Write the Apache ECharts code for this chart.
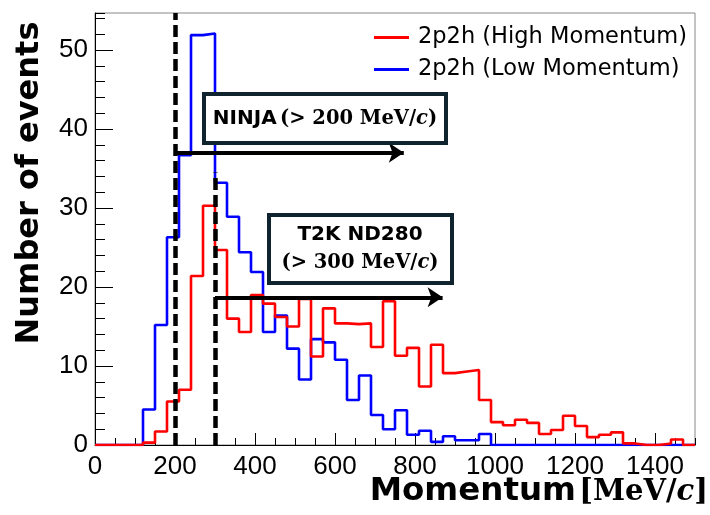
<!DOCTYPE html>
<html>
<head>
<meta charset="utf-8">
<script src="https://cdn.jsdelivr.net/npm/echarts@6/dist/echarts.min.js"></script>
<style>
  html, body { margin: 0; padding: 0; background: #fff; }
  #chart { width: 710px; height: 515px; }
</style>
</head>
<body>
<div id="chart"></div>
<script>
// histogram binning (MeV/c)
const BIN_WIDTH = 30
const X_MAX = 1500
const Y_MAX = 54.7

// events per 30 MeV/c bin, starting at 0
const lowMomentum = [
  0, 0, 0, 0, 4.5, 15.2, 26.3, 36.7, 51.9, 52.1,
  33.2, 28.9, 24.4, 21.9, 14.3, 16.4, 12.2, 8.3, 13.4, 13.0,
  10.8, 5.7, 8.8, 3.8, 2.0, 4.4, 1.3, 1.8, 0.4, 1.1,
  0.6, 0.6, 1.4, 0, 0, 0, 0, 0, 0, 0,
  0, 0, 0, 0, 0, 0, 0, 0, 0, 0,
]
const highMomentum = [
  0, 0, 0, 0, 0.3, 1.7, 5.5, 7.0, 21.4, 30.3,
  24.7, 16.0, 14.3, 19.0, 17.9, 16.2, 15.0, 18.5, 11.2, 17.3,
  15.4, 15.3, 15.4, 12.4, 18.2, 11.3, 12.3, 7.4, 12.7, 9.1,
  9.3, 9.5, 5.7, 2.9, 2.5, 3.2, 2.8, 1.4, 1.9, 3.7,
  2.4, 1.0, 1.3, 1.6, 0.2, 0, 0, 0.2, 0.7, 0,
]

// detector thresholds and their arrows
const ninjaCut = 200
const t2kCut = 300
const ninjaArrow = { y: 37.0, end: 772 }
const t2kArrow = { y: 18.7, end: 869, lineTop: 34.5 }

const seriesNames = ['2p2h (High Momentum)', '2p2h (Low Momentum)']

// bin low edges + the last upper edge, drawn as a step line
function toSteps(values) {
  const pts = values.map((v, i) => [i * BIN_WIDTH, v])
  pts.push([values.length * BIN_WIDTH, values[values.length - 1]])
  return pts
}

const tickFont = { fontFamily: 'Liberation Sans', fontSize: 26, color: '#000', formatter: (v) => String(v) }
const sans = 'DejaVu Sans'
const serif = 'DejaVu Serif'

const chart = echarts.init(document.getElementById('chart'), null, { renderer: 'canvas' })

const valueAxisBase = {
  type: 'value',
  min: 0,
  splitLine: { show: false },
}

const serifRich = (size) => ({
  b: { fontFamily: serif, fontWeight: 'bold', fontSize: size, fill: '#000' },
  c: { fontFamily: serif, fontWeight: 'bold', fontStyle: 'italic', fontSize: size, fill: '#000' },
})

chart.setOption({
  animation: false,
  grid: { left: 95, top: 13, right: 15, bottom: 70, show: true, borderColor: '#888', borderWidth: 1 },
  legend: {
    orient: 'vertical',
    left: 369,
    top: 21,
    itemWidth: 35,
    itemHeight: 3,
    itemGap: 9,
    icon: 'rect',
    data: seriesNames,
    textStyle: { fontFamily: sans, fontSize: 22.5, color: '#000', lineHeight: 23, padding: [0, 0, 0, 4] },
  },
  xAxis: [
    {
      ...valueAxisBase,
      max: X_MAX,
      interval: 200,
      axisLine: { show: true, onZero: false, lineStyle: { color: '#000', width: 1 } },
      axisTick: { show: true, inside: true, length: 12, lineStyle: { color: '#000', width: 1 } },
      axisLabel: { ...tickFont, margin: 9, showMaxLabel: false },
    },
    {
      ...valueAxisBase,
      max: X_MAX,
      interval: 50,
      position: 'bottom',
      axisLine: { show: false },
      axisTick: { show: true, inside: true, length: 7, lineStyle: { color: '#000', width: 1 } },
      axisLabel: { show: false },
    },
  ],
  yAxis: [
    {
      ...valueAxisBase,
      max: Y_MAX,
      interval: 10,
      axisLine: { show: true, onZero: false, lineStyle: { color: '#000', width: 1 } },
      axisTick: { show: true, inside: true, length: 18, lineStyle: { color: '#000', width: 1 } },
      axisLabel: { ...tickFont, margin: 7, showMaxLabel: false },
    },
    {
      ...valueAxisBase,
      max: Y_MAX,
      interval: 2,
      position: 'left',
      axisLine: { show: false },
      axisTick: { show: true, inside: true, length: 10, lineStyle: { color: '#000', width: 1 } },
      axisLabel: { show: false },
    },
  ],
  series: [
    {
      name: seriesNames[1],
      type: 'line',
      step: 'end',
      data: toSteps(lowMomentum),
      symbol: 'none',
      itemStyle: { color: '#0000ff' },
      lineStyle: { color: '#0000ff', width: 2.6 },
      z: 2,
    },
    {
      name: seriesNames[0],
      type: 'line',
      step: 'end',
      data: toSteps(highMomentum),
      symbol: 'none',
      itemStyle: { color: '#ff0000' },
      lineStyle: { color: '#ff0000', width: 2.6 },
      z: 3,
      markLine: {
        silent: true,
        animation: false,
        label: { show: false },
        z: 6,
        data: [
          [
            { coord: [ninjaCut, 0], symbol: 'none', lineStyle: { color: '#000', width: 4.5, type: [12, 5] } },
            { coord: [ninjaCut, Y_MAX], symbol: 'none' },
          ],
          [
            { coord: [t2kCut, 0], symbol: 'none', lineStyle: { color: '#000', width: 4.5, type: [12, 5] } },
            { coord: [t2kCut, t2kArrow.lineTop], symbol: 'none' },
          ],
          [
            { coord: [ninjaCut, ninjaArrow.y], symbol: 'none', lineStyle: { color: '#000', width: 4, type: 'solid' } },
            { coord: [ninjaArrow.end, ninjaArrow.y], symbol: 'arrow', symbolSize: 15 },
          ],
          [
            { coord: [t2kCut, t2kArrow.y], symbol: 'none', lineStyle: { color: '#000', width: 4, type: 'solid' } },
            { coord: [t2kArrow.end, t2kArrow.y], symbol: 'arrow', symbolSize: 15 },
          ],
        ],
      },
    },
  ],
  graphic: [
    {
      type: 'rect', z: 20,
      shape: { x: 204, y: 94, width: 242, height: 49 },
      style: { fill: '#fff', stroke: '#10242f', lineWidth: 4 },
    },
    {
      type: 'text', z: 21, x: 325, y: 119,
      style: {
        text: '{a|NINJA} {b|(> 200 MeV/}{c|c}{b|)}',
        align: 'center', verticalAlign: 'middle',
        rich: {
          a: { fontFamily: sans, fontWeight: 'bold', fontSize: 20, fill: '#000' },
          ...serifRich(19.5),
        },
      },
    },
    {
      type: 'rect', z: 20,
      shape: { x: 269, y: 215, width: 183, height: 68 },
      style: { fill: '#fff', stroke: '#10242f', lineWidth: 4 },
    },
    {
      type: 'text', z: 21, x: 360, y: 235,
      style: {
        text: 'T2K ND280',
        align: 'center', verticalAlign: 'middle',
        font: 'bold 20px "DejaVu Sans"', fill: '#000',
      },
    },
    {
      type: 'text', z: 21, x: 360, y: 263,
      style: {
        text: '{b|(> 300 MeV/}{c|c}{b|)}',
        align: 'center', verticalAlign: 'middle',
        rich: serifRich(19.5),
      },
    },
    {
      type: 'text', z: 21, x: 30, y: 183, rotation: Math.PI / 2,
      style: {
        text: 'Number of events',
        align: 'center', verticalAlign: 'middle',
        font: 'bold 32px "DejaVu Sans"', fill: '#000',
      },
    },
    {
      type: 'text', z: 21, x: 708, y: 492,
      style: {
        text: '{a|Momentum} {b|[MeV/}{c|c}{b|]}',
        align: 'right', verticalAlign: 'middle',
        rich: {
          a: { fontFamily: sans, fontWeight: 'bold', fontSize: 32.5, fill: '#000' },
          ...serifRich(29),
        },
      },
    },
  ],
})
</script>
</body>
</html>
